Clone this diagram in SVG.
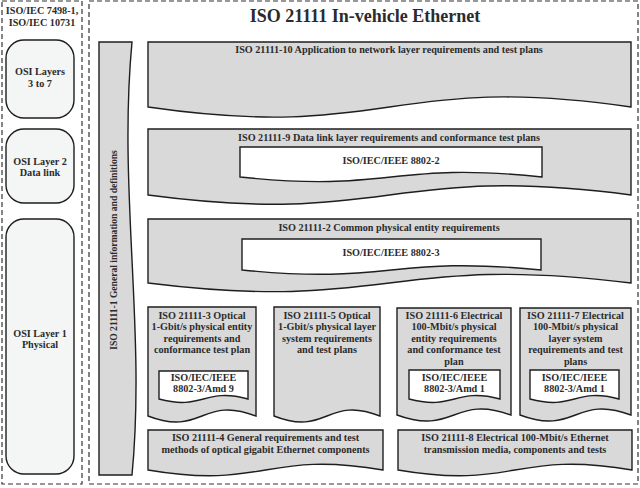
<svg xmlns="http://www.w3.org/2000/svg" width="640" height="488" viewBox="0 0 640 488">
<style>
.t{font-family:"Liberation Serif","Times New Roman",serif;font-weight:bold;fill:#2b2b2b;text-anchor:middle}
.s9{font-size:9.6px}
.s10{font-size:10.2px}
.dash{fill:none;stroke:#333;stroke-width:1.2;stroke-dasharray:5 3}
.doc{fill:#d9d9d9;stroke:#1e1e1e;stroke-width:1.4}
.in{fill:#ffffff;stroke:#1e1e1e;stroke-width:1.4}
.osi{fill:#f4f5f5;stroke:#1e1e1e;stroke-width:1.4}
</style>
<rect x="0" y="0" width="640" height="488" fill="#ffffff"/>
<g id="osi-panel">
<rect x="2" y="1" width="80" height="483" fill="#ffffff" class="dash"/>
<text class="t s10" x="42" y="13.5">ISO/IEC 7498-1,</text>
<text class="t s10" x="42" y="25.5">ISO/IEC 10731</text>
</g>
<g id="osi-3-7">
<rect x="6" y="40" width="68" height="78" rx="18" class="osi"/>
<text class="t s10" x="40" y="75">OSI Layers</text>
<text class="t s10" x="40" y="87">3 to 7</text>
</g>
<g id="osi-2">
<rect x="6" y="129" width="68" height="74" rx="18" class="osi"/>
<text class="t s10" x="40" y="165">OSI Layer 2</text>
<text class="t s10" x="40" y="176">Data link</text>
</g>
<g id="osi-1">
<rect x="6" y="219" width="68" height="255" rx="18" class="osi"/>
<text class="t s10" x="40" y="336.5">OSI Layer 1</text>
<text class="t s10" x="40" y="348">Physical</text>
</g>
<g id="iso21111-panel">
<rect x="89" y="1" width="549" height="483" fill="#f3f5f5" class="dash"/>
<text class="t" style="font-size:18px" x="365" y="21.5">ISO 21111 In-vehicle Ethernet</text>
</g>
<g id="part1">
<path class="doc" d="M99,42 H132 C118,190 146,330 132,475 H99 Z"/>
<text class="t s9" transform="translate(116.5,250) rotate(-90)">ISO 21111-1 General information and definitions</text>
</g>
<g id="part10">
<path class="doc" d="M148,42 H631 V107 C389.5,72 389.5,142 148,107 Z"/>
<text class="t s10" x="389" y="53">ISO 21111-10 Application to network layer requirements and test plans</text>
</g>
<g id="part9">
<path class="doc" d="M148,129 H631 V195 C389.5,163 389.5,227 148,195 Z"/>
<text class="t s10" x="389" y="141">ISO 21111-9 Data link layer requirements and conformance test plans</text>
</g>
<g id="ieee8802-2">
<path class="in" d="M240,147 H542 V177 C391,161 391,193 240,177 Z"/>
<text class="t s10" x="391" y="163.5">ISO/IEC/IEEE 8802-2</text>
</g>
<g id="part2">
<path class="doc" d="M148,219 H631 V283 C389.5,253 389.5,313 148,283 Z"/>
<text class="t s10" x="389" y="231">ISO 21111-2 Common physical entity requirements</text>
</g>
<g id="ieee8802-3">
<path class="in" d="M242,239 H541 V270 C391.5,255 391.5,285 242,270 Z"/>
<text class="t s10" x="391" y="255.5">ISO/IEC/IEEE 8802-3</text>
</g>
<g id="part3">
<path class="doc" d="M148,307 H256 V416 C202,395 202,437 148,416 Z"/>
<text class="t s10" x="202" y="318.5">ISO 21111-3 Optical</text>
<text class="t s10" x="202" y="330">1-Gbit/s physical entity</text>
<text class="t s10" x="202" y="341.5">requirements and</text>
<text class="t s10" x="202" y="353">conformance test plan</text>
</g>
<g id="amd9">
<path class="in" d="M159,371 H248 V399 C203.5,387 203.5,411 159,399 Z"/>
<text class="t s10" x="203.5" y="380.5">ISO/IEC/IEEE</text>
<text class="t s10" x="203.5" y="392">8802-3/Amd 9</text>
</g>
<g id="part5">
<path class="doc" d="M274,307 H380 V416 C327,395 327,437 274,416 Z"/>
<text class="t s10" x="327" y="318.5">ISO 21111-5 Optical</text>
<text class="t s10" x="327" y="330">1-Gbit/s physical layer</text>
<text class="t s10" x="327" y="341.5">system requirements</text>
<text class="t s10" x="327" y="353">and test plans</text>
</g>
<g id="part6">
<path class="doc" d="M397,308 H511 V415 C454,394 454,436 397,415 Z"/>
<text class="t s10" x="454" y="318.5">ISO 21111-6 Electrical</text>
<text class="t s10" x="454" y="330">100-Mbit/s physical</text>
<text class="t s10" x="454" y="341.5">entity requirements</text>
<text class="t s10" x="454" y="353">and conformance test</text>
<text class="t s10" x="454" y="364.5">plan</text>
</g>
<g id="amd1-a">
<path class="in" d="M409,370 H500 V399 C454.5,387 454.5,411 409,399 Z"/>
<text class="t s10" x="454.5" y="380.5">ISO/IEC/IEEE</text>
<text class="t s10" x="454.5" y="392">8802-3/Amd 1</text>
</g>
<g id="part7">
<path class="doc" d="M520,308 H631 V415 C575.5,394 575.5,436 520,415 Z"/>
<text class="t s10" x="575.5" y="318.5">ISO 21111-7 Electrical</text>
<text class="t s10" x="575.5" y="330">100-Mbit/s physical</text>
<text class="t s10" x="575.5" y="341.5">layer system</text>
<text class="t s10" x="575.5" y="353">requirements and test</text>
<text class="t s10" x="575.5" y="364.5">plans</text>
</g>
<g id="amd1-b">
<path class="in" d="M530,370 H619 V399 C574.5,387 574.5,411 530,399 Z"/>
<text class="t s10" x="574.5" y="380.5">ISO/IEC/IEEE</text>
<text class="t s10" x="574.5" y="392">8802-3/Amd 1</text>
</g>
<g id="part4">
<path class="doc" d="M148,430 H383 V470 C265.5,450 265.5,490 148,470 Z"/>
<text class="t s10" x="265.5" y="441">ISO 21111-4 General requirements and test</text>
<text class="t s10" x="265.5" y="453">methods of optical gigabit Ethernet components</text>
</g>
<g id="part8">
<path class="doc" d="M398,430 H632 V470 C515,450 515,490 398,470 Z"/>
<text class="t s10" x="515" y="441">ISO 21111-8  Electrical 100-Mbit/s Ethernet</text>
<text class="t s10" x="515" y="453">transmission media, components and tests</text>
</g>
</svg>
